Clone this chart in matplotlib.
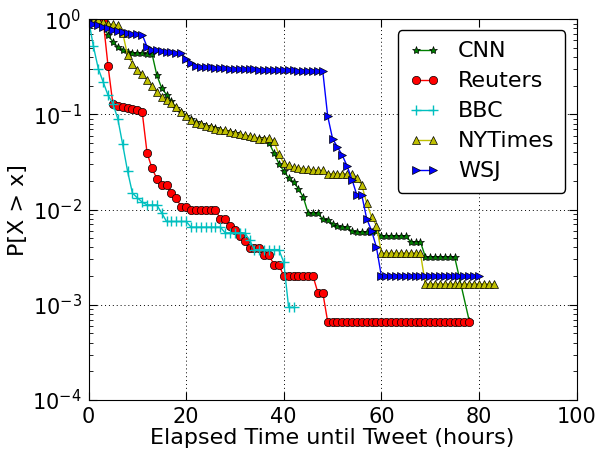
import numpy as np
import matplotlib
matplotlib.use("Agg")
import matplotlib.pyplot as plt

# hourly bins (hours after the news item)
hours = [0, 1, 2, 3, 4, 5, 6, 7, 8, 9, 10, 11, 12, 13, 14, 15, 16, 17, 18, 19,
         20, 21, 22, 23, 24, 25, 26, 27, 28, 29, 30, 31, 32, 33, 34, 35, 36, 37, 38, 39,
         40, 41, 42, 43, 44, 45, 46, 47, 48, 49, 50, 51, 52, 53, 54, 55, 56, 57, 58, 59,
         60, 61, 62, 63, 64, 65, 66, 67, 68, 69, 70, 71, 72, 73, 74, 75, 76, 77, 78, 79,
         80, 81, 82, 83]

cnn_x = hours[:76] + [78]
cnn_y = [1.0, 0.97, 0.93, 0.85, 0.68, 0.577, 0.512, 0.48, 0.453, 0.44,
         0.438, 0.436, 0.435, 0.435, 0.258, 0.189, 0.161, 0.137, 0.118, 0.106,
         0.097, 0.089, 0.083, 0.079, 0.076, 0.074, 0.072, 0.069, 0.067, 0.065,
         0.063, 0.061, 0.060, 0.058, 0.057, 0.056, 0.055, 0.050, 0.0393, 0.0304,
         0.0254, 0.0216, 0.0195, 0.0166, 0.0135, 0.0092, 0.0092, 0.0092, 0.0079, 0.0078,
         0.0071, 0.0067, 0.0065, 0.0065, 0.0059, 0.0058, 0.0058, 0.0058, 0.0058, 0.0060,
         0.0053, 0.0053, 0.0053, 0.0053, 0.0053, 0.0053, 0.0046, 0.0046, 0.0046, 0.0032,
         0.0032, 0.0032, 0.0032, 0.0032, 0.0032, 0.0032, 0.00068]

reuters_x = hours[:79]
reuters_y = [1.0, 1.0, 0.99, 0.98, 0.323, 0.128, 0.122, 0.120, 0.118, 0.114,
             0.110, 0.106, 0.0393, 0.0273, 0.0211, 0.0180, 0.0180, 0.0149, 0.0132, 0.0106,
             0.0106, 0.0100, 0.0100, 0.0100, 0.0100, 0.0100, 0.0100, 0.0080, 0.0080, 0.00665,
             0.00604, 0.00532, 0.00467, 0.00397, 0.00397, 0.00397, 0.0033, 0.0033, 0.00265, 0.00265,
             0.0020, 0.0020, 0.0020, 0.0020, 0.0020, 0.0020, 0.0020, 0.00134, 0.00134, 0.000667,
             0.000667, 0.000667, 0.000667, 0.000667, 0.000667, 0.000667, 0.000667, 0.000667, 0.000667, 0.000667,
             0.000667, 0.000667, 0.000667, 0.000667, 0.000667, 0.000667, 0.000667, 0.000667, 0.000667, 0.000667,
             0.000667, 0.000667, 0.000667, 0.000667, 0.000667, 0.000667, 0.000667, 0.000667, 0.000667]

bbc_x = hours[:43]
bbc_y = [1.0, 0.52, 0.303, 0.219, 0.159, 0.130, 0.090, 0.0485, 0.0254, 0.0149,
         0.0133, 0.0120, 0.0112, 0.0112, 0.0112, 0.0092, 0.0075, 0.0075, 0.0075, 0.0075,
         0.0075, 0.00655, 0.00655, 0.00655, 0.00655, 0.00655, 0.00655, 0.00655, 0.0057, 0.0057,
         0.0057, 0.0057, 0.0057, 0.0048, 0.0038, 0.0038, 0.0038, 0.0038, 0.0038, 0.0038,
         0.0028, 0.00094, 0.00094]

nyt_x = hours[:84]
nyt_y = [1.0, 0.99, 0.97, 0.93, 0.90, 0.88, 0.86, 0.72, 0.418, 0.342,
         0.296, 0.264, 0.232, 0.197, 0.172, 0.152, 0.143, 0.132, 0.120, 0.106,
         0.0955, 0.0881, 0.0813, 0.0787, 0.075, 0.0737, 0.071, 0.069, 0.068, 0.0653,
         0.0637, 0.0618, 0.0603, 0.0589, 0.0578, 0.0557, 0.0557, 0.057, 0.0521, 0.038,
         0.0308, 0.0292, 0.028, 0.0275, 0.027, 0.0265, 0.0262, 0.026, 0.0258, 0.0239,
         0.0239, 0.0239, 0.0239, 0.0239, 0.0239, 0.0216, 0.018, 0.0117, 0.0084, 0.0068,
         0.0035, 0.0035, 0.0035, 0.0035, 0.0035, 0.0035, 0.0035, 0.0035, 0.0035, 0.00166,
         0.00166, 0.00166, 0.00166, 0.00166, 0.00166, 0.00166, 0.00166, 0.00166, 0.00166, 0.00166,
         0.00166, 0.00166, 0.00166, 0.00166]

wsj_x = hours[:81]
wsj_y = [1.0, 0.90, 0.865, 0.83, 0.80, 0.766, 0.748, 0.73, 0.712, 0.70,
         0.695, 0.69, 0.511, 0.48, 0.469, 0.461, 0.457, 0.447, 0.44, 0.436,
         0.386, 0.347, 0.323, 0.318, 0.315, 0.312, 0.310, 0.307, 0.305, 0.303,
         0.301, 0.300, 0.299, 0.298, 0.297, 0.296, 0.295, 0.294, 0.293, 0.292,
         0.291, 0.290, 0.289, 0.288, 0.287, 0.286, 0.285, 0.285, 0.284, 0.096,
         0.0557, 0.0454, 0.0372, 0.0285, 0.0206, 0.0141, 0.0141, 0.0080, 0.0060, 0.0040,
         0.0020, 0.0020, 0.0020, 0.0020, 0.0020, 0.0020, 0.0020, 0.0020, 0.0020, 0.0020,
         0.0020, 0.0020, 0.0020, 0.0020, 0.0020, 0.0020, 0.0020, 0.0020, 0.0020, 0.0020,
         0.0020]

plt.rcParams['font.family'] = ['DejaVu Sans']
plt.rcParams['font.size'] = 16
plt.rcParams['xtick.labelsize'] = 15
plt.rcParams['ytick.labelsize'] = 15
plt.rcParams['xtick.direction'] = 'in'
plt.rcParams['ytick.direction'] = 'in'
plt.rcParams['xtick.top'] = True
plt.rcParams['ytick.right'] = True
plt.rcParams['xtick.major.size'] = 6
plt.rcParams['ytick.major.size'] = 6
plt.rcParams['xtick.minor.size'] = 3
plt.rcParams['ytick.minor.size'] = 3
plt.rcParams['xtick.major.pad'] = 5
plt.rcParams['ytick.major.pad'] = 5

fig = plt.figure(figsize=(6, 4.51), dpi=100)
ax = fig.add_axes([0.1475, 0.113, 0.8135, 0.8445])

mk = dict(markersize=6, markeredgecolor='k', markeredgewidth=0.5, linewidth=1)
ax.plot(cnn_x, cnn_y, color='g', marker='*', label='CNN', **mk)
ax.plot(reuters_x, reuters_y, color='r', marker='o', label='Reuters', **mk)
ax.plot(bbc_x, bbc_y, color='c', marker='+', label='BBC', markersize=7,
        markeredgecolor='c', markeredgewidth=1, linewidth=1)
ax.plot(nyt_x, nyt_y, color='y', marker='^', label='NYTimes', **mk)
ax.plot(wsj_x, wsj_y, color='b', marker='>', label='WSJ', **mk)

ax.set_yscale('log')
ax.set_xlim(0, 100)
ax.set_ylim(1e-4, 1)
ax.grid(True, color='k', linestyle=(0, (1, 3)), linewidth=0.7)
ax.set_xlabel('Elapsed Time until Tweet (hours)', labelpad=1)
ax.set_ylabel('P[X > x]', labelpad=3)

ax.legend(loc='upper right', fancybox=True, numpoints=2, handlelength=1.4,
          handletextpad=0.8, labelspacing=0.45, borderpad=0.5, framealpha=1,
          edgecolor='k')

fig.savefig('out.png', dpi=100)
